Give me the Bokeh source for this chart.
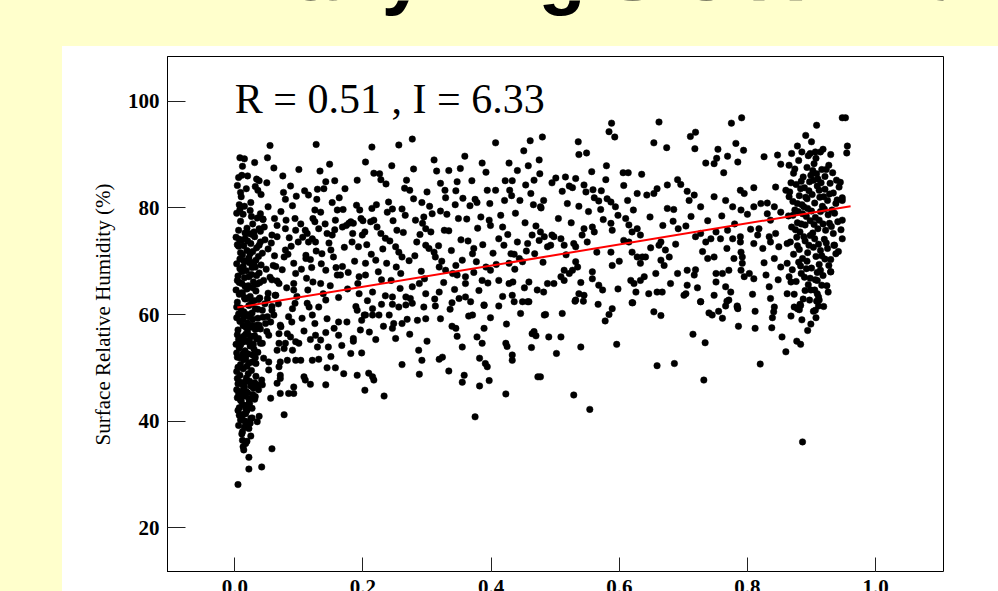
from bokeh.plotting import figure
from bokeh.layouts import row, column
from bokeh.models import Range1d, Label, ColumnDataSource, FixedTicker
from bokeh.core.properties import value
from bokeh.embed import file_html
from bokeh.resources import INLINE

TITLE = "Daily Avg Sfc RH vs SMI"
STATS = "R = 0.51 , I = 6.33"
Y_LABEL = "Surface Relative Humidity (%)"
x_ticks = [0.0, 0.2, 0.4, 0.6, 0.8, 1.0]
x_tick_labels = ["0.0", "0.2", "0.4", "0.6", "0.8", "1.0"]
y_ticks = [20, 40, 60, 80, 100]
fit_x = [0.004, 0.961]
fit_y = [61.3, 80.3]

# dense column of points at very low soil moisture index
left_column = [
    (0.008,89.4),(0.012,87.8),(0.020,86.0),(0.031,88.5),(0.006,85.7),
    (0.004,84.2),(0.010,82.1),(0.018,83.6),(0.025,81.0),(0.032,84.0),(0.041,82.5),(0.007,80.6),(0.015,80.3),
    (0.003,79.0),(0.009,77.5),(0.013,78.8),(0.019,76.2),(0.024,79.5),(0.028,77.0),(0.035,78.1),(0.040,75.6),
    (0.006,75.8),(0.016,75.3),(0.044,77.8),
    (0.002,74.5),(0.006,72.8),(0.010,73.9),(0.012,71.2),(0.016,74.2),(0.019,72.0),(0.022,70.6),(0.025,73.3),
    (0.028,71.8),(0.031,74.6),(0.034,72.5),(0.037,70.9),(0.040,73.6),(0.043,71.5),(0.008,70.4),(0.014,70.1),
    (0.027,75.0),(0.047,74.0),(0.052,72.3),(0.057,73.4),(0.062,71.0),
    (0.003,69.5),(0.005,67.2),(0.008,68.6),(0.011,65.8),(0.013,69.0),(0.015,66.9),(0.018,68.2),(0.021,65.4),
    (0.023,69.7),(0.026,67.5),(0.029,66.1),(0.032,68.9),(0.035,65.7),(0.038,67.8),(0.041,69.3),(0.045,66.4),
    (0.049,68.5),(0.055,67.0),(0.060,69.2),(0.066,66.3),(0.007,66.0),(0.017,70.0),(0.030,69.8),
    (0.002,64.6),(0.004,62.3),(0.007,63.8),(0.009,61.2),(0.012,64.1),(0.014,60.5),(0.016,62.9),(0.019,64.8),
    (0.022,61.7),(0.024,63.4),(0.027,60.3),(0.030,62.6),(0.033,64.4),(0.036,61.0),(0.039,63.1),(0.043,60.8),
    (0.047,62.0),(0.052,64.0),(0.058,61.5),(0.063,63.6),(0.006,60.1),(0.020,60.0),(0.028,65.0),
    (0.003,59.4),(0.005,57.1),(0.008,58.7),(0.010,55.6),(0.013,57.9),(0.015,59.8),(0.017,56.3),(0.020,58.4),
    (0.023,55.2),(0.025,57.6),(0.028,59.1),(0.031,56.0),(0.034,58.0),(0.037,55.5),(0.040,57.3),(0.044,59.5),
    (0.050,56.8),(0.056,58.6),(0.011,60.0),(0.019,55.0),(0.006,55.3),
    (0.002,54.4),(0.004,52.0),(0.007,53.7),(0.009,50.6),(0.012,54.8),(0.014,51.5),(0.016,53.2),(0.019,50.3),
    (0.021,52.6),(0.024,54.1),(0.027,51.1),(0.030,53.5),(0.033,50.8),(0.036,52.9),(0.040,54.6),(0.045,51.8),
    (0.005,50.1),(0.018,55.0),
    (0.003,49.3),(0.005,47.0),(0.008,48.6),(0.010,45.6),(0.013,49.8),(0.015,46.4),(0.018,48.1),(0.020,45.3),
    (0.023,47.5),(0.026,49.5),(0.029,46.2),(0.033,48.4),(0.037,45.9),(0.042,47.7),(0.006,45.2),
    (0.004,44.4),(0.007,42.5),(0.010,43.8),(0.013,41.3),(0.016,44.7),(0.019,42.0),(0.023,43.3),(0.027,40.6),
    (0.031,44.1),(0.009,40.2),
    (0.006,39.2),(0.011,37.6),(0.015,38.8),(0.019,36.2),(0.024,39.6),(0.013,35.2),
    (0.005,28.1),(0.022,31.0),(0.042,31.4),(0.058,34.8),(0.022,33.2),(0.014,34.6),(0.017,35.8),(0.012,36.4),
    (0.077,41.2),(0.007,41.1),(0.017,41.4),(0.025,40.5),(0.038,40.9),(0.035,39.9),(0.012,38.0),(0.022,38.6),
    (0.025,37.2),(0.017,39.3),(0.009,43.9),(0.022,43.3),(0.017,42.4),(0.027,42.4),(0.056,44.3),
    (0.055,91.7),(0.015,89.2),(0.051,89.4),(0.061,87.5),(0.011,86.1),(0.034,85.4),(0.038,85.1),(0.050,84.7),
    (0.009,82.9),(0.036,83.3),(0.008,79.7),(0.026,78.4),(0.040,78.9),(0.052,80.2),(0.044,77.9),
    (0.046,76.4),(0.038,76.1),(0.030,75.5),(0.022,75.2),(0.058,74.9),(0.066,74.6),(0.007,74.1),
    (0.004,73.1),(0.009,71.6),(0.014,72.9),(0.020,73.8),(0.024,71.4),(0.033,70.2),(0.038,73.0),(0.011,68.0),
    (0.016,65.3),(0.022,67.1),(0.027,68.8),(0.034,67.3),(0.039,66.0),(0.004,66.4),(0.009,64.0),(0.015,63.2),
    (0.021,63.0),(0.026,62.0),(0.032,61.1),(0.037,62.8),(0.003,61.4),(0.008,60.2),(0.013,59.0),(0.018,57.5),
    (0.022,59.6),(0.027,58.0),(0.032,57.2),(0.036,59.3),(0.004,56.2),(0.009,54.3),(0.014,55.9),(0.020,56.6),
    (0.025,55.9),(0.029,54.4),(0.034,55.4),(0.003,52.8),(0.008,51.9),(0.013,52.7),(0.017,51.8),(0.022,50.9),
    (0.028,52.4),(0.032,51.9),(0.004,48.0),(0.009,47.3),(0.012,46.8),(0.017,47.4),(0.021,48.9),(0.025,46.6),
    (0.031,47.2),(0.003,45.9),(0.008,44.9),(0.012,43.1),(0.018,45.5),(0.022,44.2),(0.005,42.0),(0.011,40.9),
    (0.016,40.0),(0.020,43.0),(0.028,45.0),(0.035,46.8),
]

# broad band of points across intermediate soil moisture
middle_band = [
    (0.127,91.9),(0.100,87.2),(0.076,82.9),(0.079,81.6),(0.096,82.2),(0.090,80.4),(0.109,83.2),(0.115,82.4),
    (0.129,83.5),(0.128,81.6),(0.142,84.9),(0.139,83.6),(0.156,85.1),(0.152,81.0),(0.163,81.9),(0.191,85.2),
    (0.214,91.4),(0.217,86.5),(0.226,86.4),(0.228,85.3),(0.256,91.8),(0.277,92.9),(0.311,89.0),(0.315,86.9),
    (0.279,87.3),(0.268,85.2),(0.265,83.7),(0.273,83.3),(0.279,81.7),(0.300,83.0),(0.321,84.6),(0.328,83.3),
    (0.329,81.9),(0.352,87.4),(0.359,89.7),(0.347,84.9),(0.345,83.2),(0.370,85.1),(0.386,88.4),(0.407,92.2),
    (0.428,88.4),(0.451,90.7),(0.461,92.6),(0.480,93.3),(0.458,87.9),(0.475,89.0),(0.476,86.4),(0.422,85.1),
    (0.433,85.1),(0.394,83.3),(0.407,83.3),(0.429,83.3),(0.432,82.3),(0.454,84.3),(0.467,85.2),(0.462,82.7),
    (0.445,81.4),(0.478,80.0),(0.375,81.6),(0.378,81.0),(0.367,80.4),(0.344,80.6),(0.321,79.4),(0.308,78.9),
    (0.295,78.3),(0.261,79.8),(0.240,81.1),(0.246,79.8),(0.238,79.2),(0.214,79.9),(0.190,80.5),(0.195,79.6),
    (0.197,78.0),(0.185,77.1),(0.178,77.1),(0.157,77.7),(0.160,79.6),(0.125,79.6),(0.134,79.2),(0.122,78.0),
    (0.125,77.4),(0.110,75.8),(0.113,75.2),(0.094,78.0),(0.080,77.7),(0.066,76.7),(0.079,76.1),(0.095,75.8),
    (0.099,73.6),(0.115,73.6),(0.121,74.2),(0.126,73.6),(0.136,71.4),(0.150,72.1),(0.154,70.8),(0.144,75.2),
    (0.152,74.9),(0.168,76.4),(0.174,76.7),(0.181,77.4),(0.183,73.6),(0.193,72.7),(0.199,74.9),(0.203,75.5),
    (0.212,77.4),(0.217,77.7),(0.222,76.4),(0.228,75.2),(0.235,74.3),(0.242,73.8),(0.251,72.7),(0.256,71.7),
    (0.261,70.8),(0.220,70.2),(0.204,69.6),(0.204,67.4),(0.194,67.1),(0.168,69.0),(0.160,67.4),(0.165,67.4),
    (0.142,68.3),(0.122,66.1),(0.134,65.8),(0.111,71.1),(0.111,70.5),(0.092,69.6),(0.095,67.7),(0.079,72.1),
    (0.077,70.8),(0.064,69.0),(0.069,65.8),(0.092,64.6),(0.092,65.8),(0.064,63.6),(0.051,63.0),(0.094,62.1),
    (0.113,62.1),(0.142,62.7),(0.194,63.9),(0.215,64.2),(0.235,63.5),(0.246,63.3),(0.267,63.3),(0.277,65.2),
    (0.288,65.8),(0.298,73.0),(0.303,72.4),(0.311,71.7),(0.313,70.8),(0.293,77.1),(0.298,76.1),(0.282,77.7),
    (0.327,75.8),(0.334,75.7),(0.319,68.9),(0.329,68.3),(0.340,67.7),(0.347,67.4),(0.345,69.2),(0.355,70.2),
    (0.360,67.1),(0.360,65.8),(0.373,72.4),(0.371,71.4),(0.384,78.3),(0.397,77.7),(0.399,76.7),(0.412,74.2),
    (0.420,73.0),(0.418,76.4),(0.431,71.4),(0.436,71.3),(0.444,70.5),(0.449,69.9),(0.428,69.6),(0.412,66.4),
    (0.428,65.8),(0.434,66.1),(0.459,66.1),(0.475,73.9),(0.483,74.6),(0.464,74.9),(0.457,73.3),(0.472,64.6),
    (0.433,63.6),(0.449,62.4),(0.459,62.4),(0.389,61.7),(0.350,63.0),(0.360,63.3),(0.319,64.2),(0.392,68.9),
    (0.399,68.3),(0.386,66.4),(0.373,67.9),
    (0.072,79.3),(0.085,74.4),(0.103,77.0),(0.118,70.3),(0.131,76.1),(0.147,73.4),(0.158,68.8),(0.171,72.6),
    (0.187,70.0),(0.206,73.1),(0.224,68.0),(0.231,72.3),(0.247,77.6),(0.252,68.9),(0.263,75.4),(0.272,70.1),
    (0.284,73.6),(0.291,68.1),(0.306,75.5),(0.318,72.9),(0.331,78.8),(0.338,72.0),(0.353,74.0),(0.362,77.9),
    (0.377,69.9),(0.387,73.1),(0.403,71.5),(0.415,78.6),(0.426,75.0),(0.441,73.6),(0.453,77.2),(0.468,71.4),
    (0.481,69.8),(0.112,66.8),(0.138,63.9),(0.176,64.8),(0.189,61.5),(0.229,66.5),(0.258,64.9),(0.298,63.9),
    (0.326,66.0),(0.343,64.7),(0.381,64.5),(0.418,63.4),(0.452,65.0),(0.087,84.1),(0.133,86.9),(0.172,83.6),
    (0.236,84.5),(0.292,81.0),(0.356,81.8),(0.398,80.8),(0.438,79.0),(0.466,80.6),(0.148,88.2),(0.204,88.6),
    (0.245,87.9),(0.334,87.0),(0.392,86.7),(0.441,87.0),(0.083,71.3),(0.104,68.5),(0.062,78.0),(0.075,86.0),
    (0.058,66.5),(0.068,62.0),(0.074,68.4),(0.081,65.0),(0.088,72.8),(0.097,63.4),(0.106,74.5),(0.114,64.6),
    (0.120,68.8),(0.127,71.9),(0.135,69.5),(0.141,77.0),(0.149,65.4),(0.156,75.9),(0.162,63.2),(0.169,79.7),
    (0.177,67.9),(0.184,75.2),(0.192,65.8),(0.200,77.6),(0.207,62.6),(0.213,71.3),(0.221,80.6),(0.229,61.9),
    (0.237,69.6),(0.244,66.4),(0.253,75.8),(0.259,67.7),(0.266,78.6),(0.274,63.0),(0.281,71.0),(0.289,75.0),
    (0.296,66.7),(0.304,80.3),(0.312,62.9),(0.323,70.0),(0.336,61.0),(0.349,78.0),(0.364,73.8),(0.379,76.2),
    (0.395,65.9),(0.408,69.4),(0.421,81.4),(0.437,68.5),(0.455,71.9),(0.470,76.6),(0.072,57.7),(0.089,58.6),
    (0.108,56.9),(0.125,58.3),(0.146,53.9),(0.167,54.2),(0.210,56.7),(0.232,57.8),(0.273,56.3),
    (0.084,45.2),(0.092,45.2),(0.092,46.4),(0.071,45.2),(0.118,46.9),(0.142,46.8),(0.233,44.7),(0.203,45.8),
    (0.217,47.7),(0.215,48.3),(0.191,48.6),(0.209,49.0),(0.170,48.9),(0.108,48.3),(0.110,47.7),(0.144,50.0),
    (0.157,50.0),(0.121,51.4),(0.131,51.6),(0.150,52.1),(0.181,52.7),(0.198,52.8),(0.261,50.6),(0.288,48.8),
    (0.292,51.4),(0.287,53.3),(0.319,51.6),(0.324,52.0),(0.334,49.4),(0.355,47.3),(0.358,48.6),(0.382,46.6),
    (0.397,47.6),(0.382,51.8),(0.391,50.8),(0.394,50.2),(0.423,45.1),(0.375,40.8),(0.433,51.4),(0.433,52.4),
    (0.463,53.8),(0.464,56.4),(0.470,56.0),(0.473,48.3),(0.483,59.9),(0.355,53.9),(0.386,54.6),(0.378,55.8),
    (0.423,54.6),(0.425,54.0),(0.300,55.0),(0.251,55.5),(0.220,55.3),(0.185,55.5),(0.185,55.0),(0.196,57.1),
    (0.198,58.9),(0.129,53.9),(0.134,55.2),(0.118,55.3),(0.126,56.1),(0.142,56.6),(0.155,57.4),(0.162,56.1),
    (0.162,58.6),(0.175,58.6),(0.144,59.2),(0.204,59.9),(0.215,59.9),(0.225,59.9),(0.241,59.9),(0.246,57.4),
    (0.248,58.3),(0.261,58.3),(0.269,59.1),(0.285,58.9),(0.298,59.2),(0.321,59.2),(0.339,57.8),(0.345,57.4),
    (0.347,55.9),(0.365,59.7),(0.371,59.9),(0.389,57.4),(0.399,59.4),(0.446,60.2),(0.424,58.2),(0.467,56.8),
    (0.368,62.4),(0.389,61.8),(0.412,61.6),(0.436,62.4),(0.457,62.4),(0.246,61.9),(0.256,61.4),(0.267,61.8),
    (0.277,62.1),(0.295,61.4),(0.313,61.6),(0.339,62.2),(0.215,61.1),(0.191,60.8),(0.202,59.9),(0.121,59.9),
    (0.131,61.4),(0.116,61.4),(0.090,61.1),(0.084,59.6),(0.105,59.3),(0.071,58.0),(0.069,56.4),(0.082,56.4),
    (0.087,55.8),(0.095,54.9),(0.100,54.6),(0.069,54.6),(0.079,54.6),(0.066,53.3),(0.077,53.6),(0.090,53.3),
    (0.071,51.1),(0.082,51.4),(0.095,51.4),(0.103,51.4),(0.053,51.1),(0.053,49.6),(0.069,50.2),(0.071,48.6),
    (0.071,48.0),(0.066,47.1),(0.043,46.8),(0.032,44.6),(0.053,56.1),(0.043,54.6),(0.038,58.0),(0.048,58.3),
    (0.051,59.6),(0.058,60.8),(0.061,59.9),
    (0.588,95.9),(0.584,94.3),(0.593,93.3),(0.662,96.1),(0.536,92.4),(0.537,90.0),(0.549,90.3),(0.654,92.2),
    (0.674,91.3),(0.711,93.4),(0.719,94.2),(0.718,91.1),(0.775,95.9),(0.791,96.9),(0.782,92.1),(0.794,90.8),
    (0.754,91.0),(0.769,89.7),(0.735,88.4),(0.748,88.3),(0.752,89.3),(0.785,88.6),(0.763,86.6),(0.826,89.6),
    (0.847,89.9),(0.852,88.2),(0.580,87.9),(0.557,86.8),(0.606,86.6),(0.614,86.6),(0.635,86.3),(0.495,84.7),
    (0.501,85.6),(0.516,85.8),(0.532,85.5),(0.545,84.3),(0.548,83.0),(0.559,83.4),(0.572,83.2),(0.579,85.3),
    (0.607,84.2),(0.522,84.1),(0.527,83.8),(0.511,83.1),(0.482,81.4),(0.477,80.2),(0.519,80.8),(0.537,80.3),
    (0.561,81.9),(0.568,81.3),(0.581,81.7),(0.571,79.7),(0.587,81.1),(0.594,80.2),(0.613,81.4),(0.628,82.7),
    (0.643,82.4),(0.654,82.7),(0.659,83.6),(0.675,84.3),(0.691,85.3),(0.696,84.4),(0.706,83.1),(0.717,82.4),
    (0.709,81.4),(0.675,79.9),(0.685,79.7),(0.727,80.2),(0.748,82.1),(0.766,81.4),(0.777,80.2),(0.789,83.3),
    (0.795,82.7),(0.810,83.8),(0.790,79.6),(0.800,78.8),(0.810,80.2),(0.821,80.8),(0.831,80.9),(0.842,80.2),
    (0.852,79.2),(0.831,78.9),(0.836,77.7),(0.844,83.9),(0.860,83.3),
    (0.852,68.9),(0.862,69.6),(0.862,73.3),(0.849,72.7),(0.834,74.6),(0.836,73.6),(0.844,75.2),(0.818,76.1),
    (0.816,74.9),(0.810,73.3),(0.789,74.6),(0.789,73.6),(0.777,74.2),(0.790,71.7),(0.792,70.8),(0.779,70.5),
    (0.792,69.6),(0.790,68.3),(0.795,67.1),(0.803,67.7),(0.810,66.7),(0.829,67.4),(0.834,65.2),(0.836,63.0),
    (0.842,61.4),(0.862,63.9),(0.771,68.3),(0.761,67.7),(0.766,65.2),(0.774,64.2),(0.771,62.7),(0.784,61.4),
    (0.751,67.7),(0.751,66.1),(0.748,70.8),(0.738,70.5),(0.735,73.6),(0.743,74.2),(0.751,75.5),(0.758,74.2),
    (0.769,75.8),(0.719,74.6),(0.727,75.2),(0.692,76.1),(0.704,76.6),(0.691,67.7),(0.706,68.3),(0.719,68.4),
    (0.717,67.4),(0.706,65.5),(0.704,63.9),(0.701,63.6),(0.727,62.4),(0.748,63.6),(0.672,72.1),(0.678,70.8),
    (0.665,70.2),(0.670,69.2),(0.662,73.0),(0.665,73.6),(0.657,67.7),(0.659,64.2),(0.667,64.2),(0.646,63.9),
    (0.618,66.4),(0.623,65.8),(0.633,66.4),(0.639,67.1),(0.626,64.2),(0.620,62.2),(0.620,71.7),(0.628,70.8),
    (0.636,70.8),(0.641,70.8),(0.633,69.6),(0.610,78.0),(0.615,76.8),(0.628,76.1),(0.633,74.9),(0.620,75.5),
    (0.587,77.1),(0.589,75.8),(0.607,73.9),(0.615,73.6),(0.587,71.7),(0.589,69.2),(0.558,76.4),(0.561,75.5),
    (0.545,76.1),(0.542,74.9),(0.550,73.6),(0.529,73.3),(0.532,72.7),(0.532,69.9),(0.535,68.9),(0.527,68.3),
    (0.522,67.7),(0.514,68.3),(0.509,67.1),(0.558,68.0),(0.558,66.7),(0.568,65.5),(0.574,64.6),(0.537,63.9),
    (0.532,62.7),(0.545,63.6),(0.514,66.4),(0.488,65.8),(0.498,65.8),(0.482,64.2),(0.498,74.6),(0.493,73.0),
    (0.488,72.7),(0.509,74.2),(0.514,73.0),(0.477,75.5),(0.495,74.9),
    (0.505,78.0),(0.525,77.2),(0.552,79.3),(0.575,77.8),(0.598,78.6),(0.622,79.6),(0.648,78.3),(0.668,76.7),
    (0.684,77.5),(0.712,78.4),(0.738,77.6),(0.760,78.5),(0.780,77.0),(0.805,76.0),(0.824,72.4),(0.842,70.5),
    (0.517,71.2),(0.565,71.7),(0.600,70.0),(0.649,72.5),(0.688,73.2),(0.730,71.8),(0.768,72.4),(0.540,66.0),
    (0.598,64.8),(0.680,65.8),(0.722,65.0),(0.808,63.8),(0.826,69.7),(0.848,66.5),
    (0.485,60.0),(0.511,60.2),(0.490,55.8),(0.509,55.8),(0.502,52.7),(0.540,53.9),(0.596,54.4),(0.529,44.9),
    (0.554,42.2),(0.567,61.9),(0.589,61.1),(0.584,60.0),(0.578,58.8),(0.621,62.2),(0.654,60.5),(0.665,59.8),
    (0.659,50.4),(0.686,50.8),(0.715,56.3),(0.734,54.7),(0.732,47.7),(0.727,62.4),(0.740,60.3),(0.745,59.9),
    (0.755,60.6),(0.761,59.3),(0.766,61.6),(0.768,62.5),(0.784,61.6),(0.785,61.1),(0.786,57.8),(0.812,60.6),
    (0.812,57.4),(0.838,57.5),(0.839,59.4),(0.841,60.5),(0.820,50.7),(0.854,55.8),(0.860,53.0),(0.877,55.0),
    (0.883,54.4),(0.868,59.7),(0.873,61.4),(0.881,60.9),(0.883,61.7),(0.906,60.8),(0.911,61.6),(0.907,59.4),
    (0.908,62.5),(0.886,36.1),(0.477,48.3),(0.531,62.5),(0.544,62.5),
]

# dense cluster of points near saturation
right_cluster = [
    (0.865,88.0),(0.869,90.2),(0.878,91.6),(0.891,93.6),(0.900,92.4),(0.908,95.5),(0.885,90.5),(0.898,90.2),
    (0.907,89.3),(0.914,90.5),(0.948,96.9),(0.953,96.9),(0.956,91.6),(0.955,90.3),(0.865,82.1),(0.878,80.8),
    (0.948,81.4),(0.948,77.7),(0.948,74.2),(0.935,73.0),(0.938,71.4),(0.930,68.0),(0.914,68.3),(0.909,66.4),
    (0.899,64.6),(0.909,63.9),(0.912,62.7),(0.878,61.1),(0.865,67.1),(0.868,66.1),
    (0.872,86.5),(0.880,88.9),(0.887,85.8),(0.893,87.6),(0.899,86.1),(0.904,88.3),(0.910,85.4),(0.916,87.2),
    (0.921,85.9),(0.927,88.0),(0.933,86.6),(0.939,85.2),(0.895,89.8),(0.918,91.0),(0.906,90.5),(0.930,90.0),
    (0.866,83.0),(0.871,81.2),(0.876,84.4),(0.881,82.3),(0.885,80.6),(0.889,83.8),(0.893,81.7),(0.897,84.9),
    (0.901,82.5),(0.905,80.9),(0.909,84.1),(0.913,82.0),(0.917,80.3),(0.921,83.5),(0.925,81.4),(0.929,84.6),
    (0.934,82.8),(0.938,80.8),(0.943,83.9),(0.948,81.9),(0.884,85.0),(0.903,85.2),(0.915,84.7),
    (0.864,78.5),(0.869,76.4),(0.874,79.6),(0.878,77.2),(0.882,75.5),(0.886,78.9),(0.890,76.8),(0.894,79.9),
    (0.898,77.6),(0.902,75.3),(0.906,78.2),(0.910,76.1),(0.914,79.3),(0.918,77.0),(0.922,75.8),(0.926,78.7),
    (0.931,76.5),(0.936,79.0),(0.941,77.4),(0.946,75.9),(0.888,80.2),
    (0.867,73.6),(0.872,71.3),(0.877,74.5),(0.881,72.2),(0.886,70.5),(0.890,73.8),(0.894,71.6),(0.898,74.8),
    (0.903,72.6),(0.907,70.9),(0.911,73.2),(0.916,71.0),(0.920,74.1),(0.925,72.4),(0.930,70.3),(0.936,73.0),
    (0.942,71.8),(0.880,69.8),
    (0.870,68.4),(0.876,66.2),(0.883,69.1),(0.889,67.0),(0.895,65.6),(0.900,68.7),(0.906,66.5),(0.912,69.4),
    (0.918,67.3),(0.924,65.4),(0.930,68.0),(0.893,70.0),
    (0.873,63.8),(0.882,61.9),(0.890,64.5),(0.897,62.7),(0.903,60.6),(0.911,63.3),(0.919,61.5),(0.885,59.0),
    (0.899,58.2),(0.926,64.2),(0.894,57.0),
    (0.868,84.7),(0.874,87.3),(0.883,83.6),(0.891,82.0),(0.896,83.2),(0.902,87.0),(0.908,86.4),(0.912,83.3),
    (0.919,82.1),(0.923,87.2),(0.928,82.6),(0.932,79.6),(0.940,81.5),(0.945,84.8),(0.871,78.6),(0.879,79.3),
    (0.884,77.0),(0.892,78.4),(0.900,79.4),(0.904,76.9),(0.912,77.7),(0.920,79.8),(0.928,77.1),(0.934,75.2),
    (0.875,75.9),(0.888,74.6),(0.896,73.0),(0.905,74.2),(0.914,72.0),(0.923,73.4),(0.927,69.2),(0.884,67.7),
    (0.898,66.8),(0.909,67.9),(0.921,70.4),(0.887,62.9),(0.905,64.6),(0.916,65.5),(0.878,72.9),(0.892,68.6),
]

points = left_column + middle_band + right_cluster
source = ColumnDataSource(data=dict(smi=[pt[0] for pt in points], rh=[pt[1] for pt in points]))

SLIDE = "#FFFFCC"
x_range = Range1d(-0.105, 1.106)


def blank(width, height, fill):
    f = figure(width=width, height=height, output_backend="svg", toolbar_location=None,
               x_axis_location=None, y_axis_location=None,
               x_range=Range1d(0, width), y_range=Range1d(height, 0),
               min_border=0, border_fill_color=fill, background_fill_color=fill,
               outline_line_color=None)
    f.xgrid.visible = False
    f.ygrid.visible = False
    return f


# yellow slide margin on the left, full height
left_pad = blank(62, 591, SLIDE)

# slide title strip (title is cut off by the top of the window)
title_fig = blank(936, 46, SLIDE)
title_fig.add_layout(Label(x=88, y=-28, text=TITLE, text_align="left", text_baseline="alphabetic",
                           text_font="Liberation Sans", text_font_style="bold",
                           text_font_size="77px", text_color="black"))

# main scatter plot
p = figure(width=936, height=526, output_backend="svg", toolbar_location=None,
           x_range=x_range, y_range=Range1d(11.6, 108.4),
           min_border_left=105, min_border_right=55, min_border_top=10, min_border_bottom=0,
           border_fill_color="white", background_fill_color="white",
           outline_line_color="black", outline_line_width=1)
p.xgrid.visible = False
p.ygrid.visible = False

xa = p.xaxis[0]
xa.ticker = FixedTicker(ticks=x_ticks)
xa.major_tick_in = 15
xa.major_tick_out = 0
xa.minor_tick_in = 0
xa.minor_tick_out = 0
xa.major_label_text_font_size = "0px"
xa.major_label_text_color = None
xa.major_label_standoff = 0
xa.axis_line_color = "black"
xa.major_tick_line_color = "#222222"

ya = p.yaxis[0]
ya.ticker = FixedTicker(ticks=y_ticks)
ya.major_tick_in = 18
ya.major_tick_out = 0
ya.minor_tick_in = 0
ya.minor_tick_out = 0
ya.major_label_standoff = 8
ya.major_label_text_font = "Liberation Serif"
ya.major_label_text_font_style = "bold"
ya.major_label_text_font_size = "21px"
ya.major_label_text_color = "black"
ya.axis_label = Y_LABEL
ya.axis_label_text_font = "Liberation Serif"
ya.axis_label_text_font_style = "normal"
ya.axis_label_text_font_size = "21px"
ya.axis_label_text_color = "black"
ya.axis_label_standoff = 10
ya.axis_line_color = "black"
ya.major_tick_line_color = "#222222"

p.scatter(x="smi", y="rh", source=source, size=6.5, marker="circle",
          fill_color="black", line_color="black", line_width=0.5)
p.line(fit_x, fit_y, line_color="red", line_width=2)

p.add_layout(Label(x=0.0, y=100.4, text=STATS, text_align="left", text_baseline="alphabetic",
                   text_font="Liberation Serif", text_font_size="42px", text_color="black"))

# strip under the plot holding the x tick labels (cut off by the bottom of the window)
tick_fig = figure(width=936, height=19, output_backend="svg", toolbar_location=None,
                  x_axis_location=None, y_axis_location=None,
                  x_range=x_range, y_range=Range1d(19, 0),
                  min_border_left=105, min_border_right=55, min_border_top=0, min_border_bottom=0,
                  border_fill_color="white", background_fill_color="white", outline_line_color=None)
tick_fig.xgrid.visible = False
tick_fig.ygrid.visible = False
tick_src = ColumnDataSource(data=dict(x=x_ticks, text=x_tick_labels, y=[14.3] * len(x_ticks)))
tick_fig.text(x="x", y="y", text="text", source=tick_src, text_align="center",
              text_baseline="alphabetic", text_font=value("Liberation Serif"),
              text_font_style="bold", text_font_size="21px", text_color="black")

# container background paints the slide: yellow margin left and top, white panel elsewhere,
# so any sub-pixel seams between the pieces take the right colour
slide_bg = ("linear-gradient(to right, #FFFFCC 62px, rgba(255,255,255,0) 62px), "
            "linear-gradient(to bottom, #FFFFCC 46px, #FFFFFF 46px)")
layout = row(left_pad, column(title_fig, p, tick_fig, spacing=0), spacing=0,
             styles={"background": slide_bg})

open("out.html", "w").write(file_html(layout, INLINE))
